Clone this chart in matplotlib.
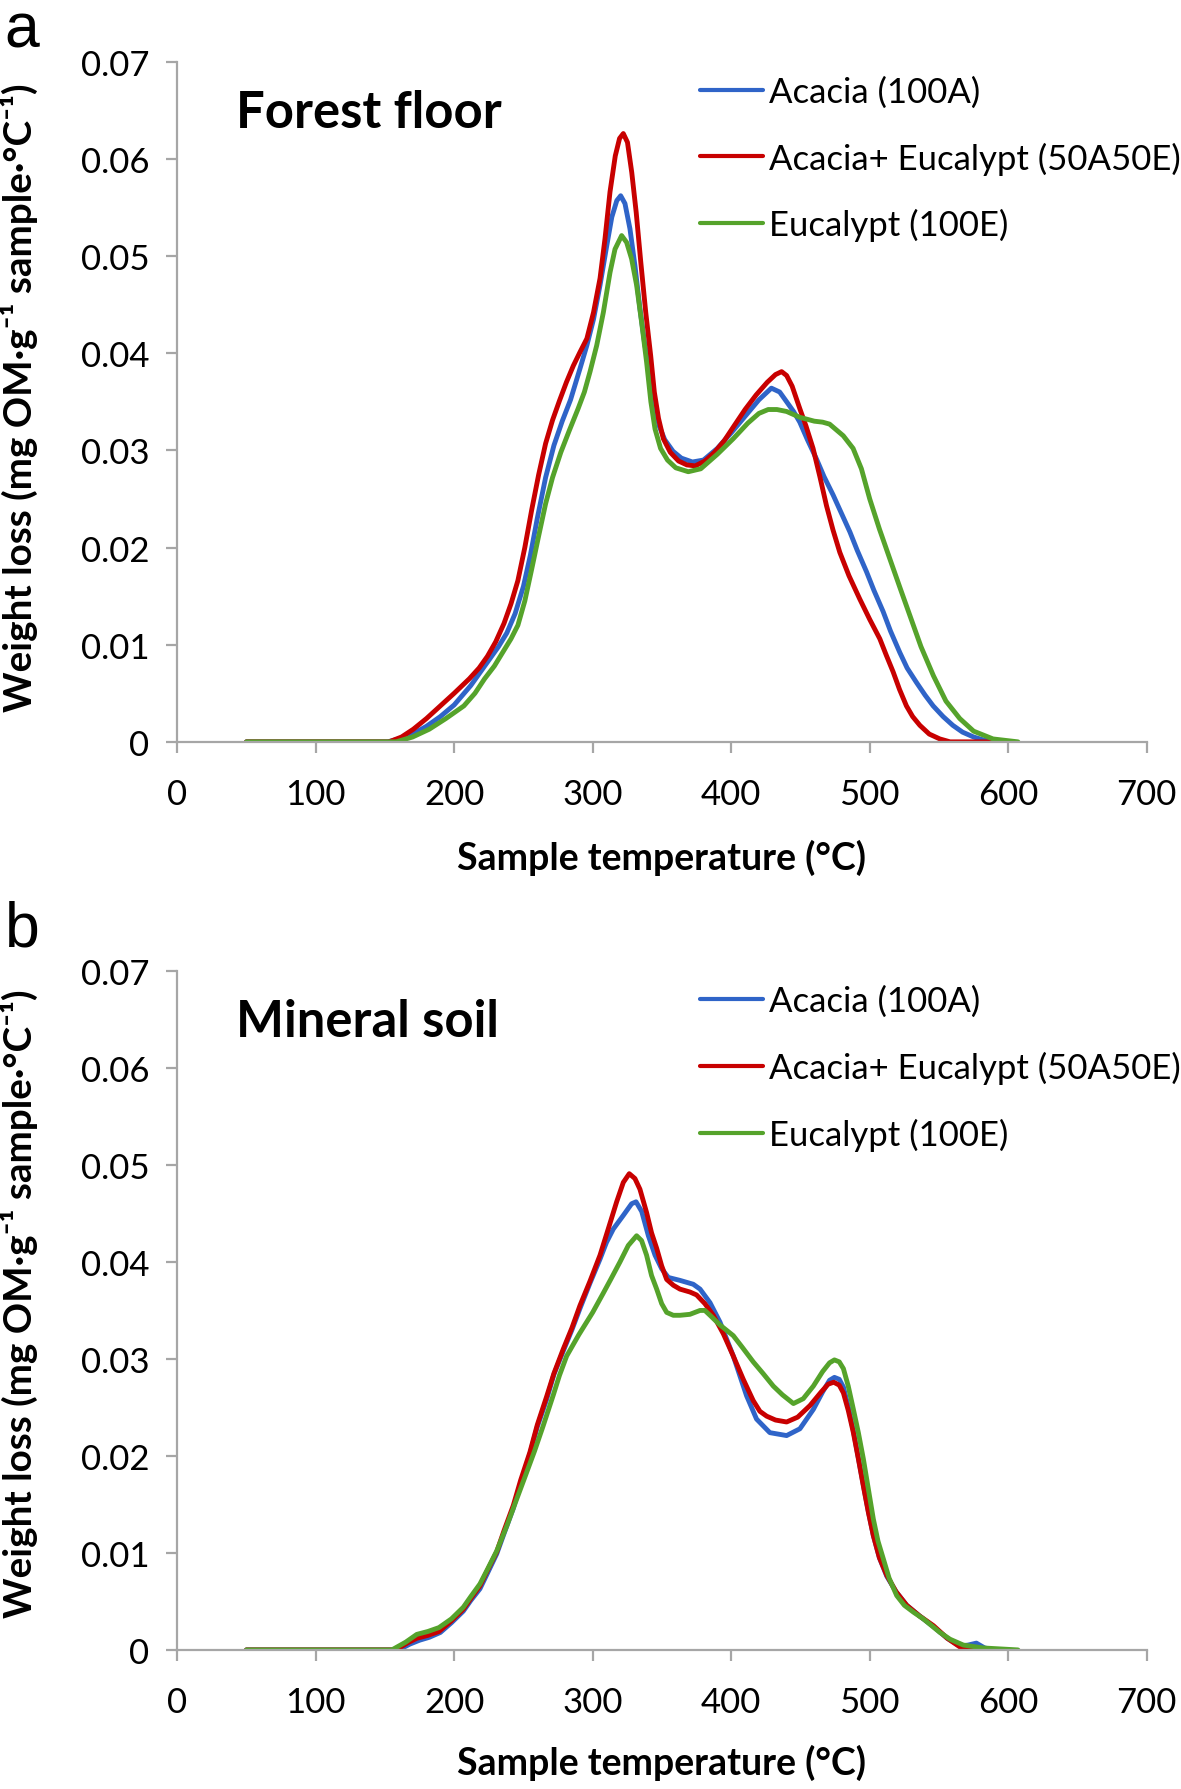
import matplotlib
matplotlib.use('Agg')
import matplotlib.pyplot as plt

# ---- data (temperature in C, weight loss) ----
# forest floor
ff_acacia_t = [50, 152, 160, 170, 180, 190, 200, 212, 224, 232, 238, 244, 250, 255, 260, 266, 272, 278, 284,
               290.8, 295.8, 300.6, 305.3, 310.2, 313.8, 317.4, 320.2, 323.3, 326.9, 330.5, 334.1, 337.7,
               342.6, 345, 348, 352, 358, 364, 372, 380, 390, 400, 410, 420, 429, 435, 440, 445, 449.5,
               455, 461.6, 467, 473.6, 479, 485.7, 491, 497.7, 503, 509.7, 515, 521.7, 527, 533.8, 540,
               545.8, 553, 560, 567, 575, 582, 590]
ff_acacia_w = [0, 0, 0.0003, 0.0008, 0.0016, 0.0026, 0.0038, 0.0058, 0.0082, 0.0098, 0.0112, 0.0132, 0.0160,
               0.0192, 0.0230, 0.0272, 0.0305, 0.0330, 0.0352, 0.0384, 0.0408, 0.0435, 0.0470, 0.0511, 0.0540,
               0.0557, 0.0562, 0.0554, 0.0528, 0.0490, 0.0446, 0.0408, 0.0374, 0.0345, 0.0325, 0.0311, 0.0299,
               0.0292, 0.0288, 0.0290, 0.0302, 0.0318, 0.0335, 0.0352, 0.0364, 0.0360, 0.0350, 0.0340, 0.0329,
               0.0311, 0.0291, 0.0273, 0.0254, 0.0237, 0.0216, 0.0197, 0.0175, 0.0156, 0.0134, 0.0114, 0.0092,
               0.0076, 0.0061, 0.0048, 0.0037, 0.0026, 0.0017, 0.0010, 0.0005, 0.0002, 0]

ff_mix_t = [50, 153, 162, 170.5, 180, 190, 200, 211, 218, 224, 230, 236, 241, 246, 251, 256, 261, 266, 271,
            276, 281, 286, 290.8, 295.8, 300.6, 305.3, 308.9, 312.5, 316.3, 319.4, 322.1, 325.1, 328.2,
            331.4, 334.7, 338.3, 341.9, 344.5, 347.5, 351, 356, 362, 368, 374, 381, 388, 395, 402, 410, 418,
            426, 432, 436.4, 440, 444, 449.5, 454, 459.1, 464, 468.8, 473.5, 478.4, 485, 492.8, 500, 507.3,
            512, 516.9, 521.5, 526.5, 531, 536.2, 543, 550.6, 558, 590]
ff_mix_w = [0, 0, 0.0005, 0.0013, 0.0024, 0.0037, 0.0050, 0.0065, 0.0076, 0.0088, 0.0103, 0.0122, 0.0142,
            0.0166, 0.0200, 0.0239, 0.0275, 0.0307, 0.0331, 0.0351, 0.0370, 0.0387, 0.0401, 0.0415, 0.0442,
            0.0477, 0.0518, 0.0566, 0.0603, 0.0621, 0.0626, 0.0617, 0.0586, 0.0545, 0.0494, 0.0442, 0.0397,
            0.0360, 0.0333, 0.0312, 0.0298, 0.0289, 0.0285, 0.0284, 0.0289, 0.0298, 0.0310, 0.0325, 0.0342,
            0.0357, 0.0370, 0.0378, 0.0381, 0.0377, 0.0366, 0.0343, 0.0325, 0.0302, 0.0273, 0.0243, 0.0218,
            0.0195, 0.0171, 0.0147, 0.0126, 0.0106, 0.0089, 0.0072, 0.0054, 0.0037, 0.0026, 0.0017, 0.0008,
            0.0003, 0, 0]

ff_euc_t = [50, 158, 170, 182, 194, 207, 215, 222, 229, 235, 241, 246, 251, 256, 261, 266, 271, 277, 283,
            289.5, 294, 298.1, 302.9, 307.7, 312.5, 316.1, 320.9, 324.5, 328.1, 331.7, 335.3, 338.9, 342,
            345, 349, 354, 360, 369, 378, 390, 401.5, 412, 420, 426.7, 433, 440, 449.5, 460, 466, 471,
            480.9, 488, 494, 500, 507, 514.6, 522, 529, 537, 546, 555, 565, 575, 589, 607]
ff_euc_w = [0, 0, 0.0005, 0.0013, 0.0024, 0.0037, 0.0050, 0.0065, 0.0078, 0.0092, 0.0106, 0.0120, 0.0145,
            0.0178, 0.0212, 0.0245, 0.0272, 0.0298, 0.0320, 0.0343, 0.0360, 0.0381, 0.0408, 0.0442, 0.0483,
            0.0507, 0.0521, 0.0514, 0.0497, 0.0470, 0.0432, 0.0391, 0.0350, 0.0322, 0.0302, 0.0290, 0.0282,
            0.0278, 0.0281, 0.0296, 0.0312, 0.0328, 0.0338, 0.0342, 0.0342, 0.0340, 0.0334, 0.0330, 0.0329,
            0.0327, 0.0315, 0.0302, 0.0281, 0.0250, 0.0219, 0.0188, 0.0158, 0.0130, 0.0098, 0.0068, 0.0042,
            0.0024, 0.0011, 0.0003, 0]

# mineral soil
ms_acacia_t = [50, 160, 168, 175, 182, 190, 198, 206.6, 212, 218.6, 224, 230.7, 236, 242.7, 248, 254.7, 260,
               266.7, 272, 278.7, 285, 290.8, 298, 305.3, 309.9, 314.9, 322.1, 328.1, 331.3, 335.4, 340.2,
               345, 349.8, 354.6, 363, 372.6, 377.5, 384.7, 391.9, 401.5, 411.1, 418.3, 427.9, 440, 449.6,
               459.3, 466, 471, 474.5, 478, 481, 484.5, 488.2, 491.8, 495.4, 499, 502.6, 507, 512.3, 519,
               526.7, 536, 546, 556, 565, 571, 577, 583, 590]
ms_acacia_w = [0, 0, 0.0006, 0.0010, 0.0013, 0.0018, 0.0028, 0.0040, 0.0051, 0.0063, 0.0079, 0.0099, 0.0120,
               0.0146, 0.0172, 0.0202, 0.0230, 0.0258, 0.0284, 0.0308, 0.0330, 0.0352, 0.0378, 0.0403, 0.0420,
               0.0434, 0.0448, 0.0460, 0.0462, 0.0452, 0.0427, 0.0407, 0.0393, 0.0384, 0.0381, 0.0377, 0.0372,
               0.0358, 0.0338, 0.0303, 0.0262, 0.0238, 0.0224, 0.0221, 0.0228, 0.0248, 0.0266, 0.0278, 0.0281,
               0.0279, 0.0271, 0.0251, 0.0226, 0.0198, 0.0170, 0.0143, 0.0118, 0.0095, 0.0076, 0.0060, 0.0046,
               0.0035, 0.0024, 0.0012, 0.0004, 0.0005, 0.0007, 0.0002, 0]

ms_mix_t = [50, 158, 166, 173, 181, 189, 198, 206.6, 212, 218.6, 224, 230.7, 236, 242.7, 248, 254.7, 260,
            266.7, 272, 278.7, 285, 290.8, 298, 305.3, 311, 317.3, 322.1, 326.4, 330.5, 334.1, 338.9, 342.5,
            346.2, 349.8, 353.4, 358.2, 363, 370.2, 375, 381, 387.1, 394.3, 401.5, 408.7, 415.9, 420.7,
            425.6, 432, 440, 448, 456.9, 465, 470, 474, 478, 481, 484.5, 488.2, 491.8, 495.4, 499, 502.6,
            507, 512.3, 519, 526.7, 536, 546, 556, 565.2, 577, 590]
ms_mix_w = [0, 0, 0.0007, 0.0012, 0.0015, 0.0019, 0.0030, 0.0042, 0.0053, 0.0066, 0.0082, 0.0101, 0.0123,
            0.0149, 0.0175, 0.0204, 0.0232, 0.0261, 0.0285, 0.0310, 0.0332, 0.0355, 0.0380, 0.0407, 0.0433,
            0.0462, 0.0482, 0.0491, 0.0486, 0.0475, 0.0451, 0.0430, 0.0414, 0.0396, 0.0382, 0.0376, 0.0372,
            0.0369, 0.0366, 0.0357, 0.0345, 0.0326, 0.0303, 0.0279, 0.0257, 0.0246, 0.0241, 0.0237, 0.0235,
            0.0240, 0.0252, 0.0266, 0.0274, 0.0276, 0.0273, 0.0265, 0.0247, 0.0224, 0.0197, 0.0169, 0.0142,
            0.0118, 0.0095, 0.0077, 0.0060, 0.0046, 0.0035, 0.0025, 0.0012, 0.0003, 0, 0]

ms_euc_t = [50, 155, 165, 173, 181, 189, 198, 206.6, 212, 218.6, 224, 230.7, 238, 245, 251, 258, 264, 271.6,
            276, 281.2, 290, 300, 307.7, 313, 319.7, 325.7, 331.7, 335.3, 338.9, 342.5, 346.2, 349.8, 353.4,
            358.2, 363, 370.2, 377.5, 381, 384.7, 391.9, 401.5, 408, 415.9, 423, 430.4, 437, 444.9, 452,
            459.3, 466, 471, 474.5, 478, 481, 484.5, 488.2, 491.8, 495.4, 499, 502.6, 506, 509.8, 514,
            519.5, 525, 531.5, 538.7, 550.7, 558, 567.6, 582, 607]
ms_euc_w = [0, 0, 0.0008, 0.0016, 0.0019, 0.0023, 0.0032, 0.0044, 0.0055, 0.0068, 0.0083, 0.0102, 0.0128,
            0.0155, 0.0178, 0.0205, 0.0230, 0.0263, 0.0283, 0.0303, 0.0325, 0.0348, 0.0368, 0.0382, 0.0400,
            0.0417, 0.0427, 0.0422, 0.0407, 0.0386, 0.0372, 0.0357, 0.0348, 0.0345, 0.0345, 0.0346, 0.0350,
            0.0350, 0.0345, 0.0335, 0.0324, 0.0312, 0.0297, 0.0285, 0.0272, 0.0263, 0.0254, 0.0259, 0.0272,
            0.0287, 0.0296, 0.0299, 0.0297, 0.0290, 0.0272, 0.0248, 0.0224, 0.0197, 0.0166, 0.0135, 0.0112,
            0.0094, 0.0074, 0.0056, 0.0046, 0.0039, 0.0032, 0.0018, 0.0011, 0.0005, 0.0002, 0]

labels = ['Acacia (100A)', 'Acacia+ Eucalypt (50A50E)', 'Eucalypt (100E)']
colors = ['#2F64C8', '#C80000', '#55A32B']
x_ticks = [0, 100, 200, 300, 400, 500, 600, 700]
y_ticks = [0, 0.01, 0.02, 0.03, 0.04, 0.05, 0.06, 0.07]

plt.rcParams['font.family'] = ['Lato', 'DejaVu Sans']
spine_col = '#A6A6A6'


def draw_panel(ax, series, title):
    for (t, w), lab, col in zip(series, labels, colors):
        ax.plot(t, w, color=col, lw=3.5, label=lab, solid_joinstyle='round', solid_capstyle='round')
    ax.set_xlim(0, 700)
    ax.set_ylim(0, 0.07)
    ax.set_xticks(x_ticks)
    ax.set_yticks(y_ticks)
    ax.set_xticklabels([str(v) for v in x_ticks])
    ax.set_yticklabels(['0'] + ['%.2f' % v for v in y_ticks[1:]])
    for s in ['top', 'right']:
        ax.spines[s].set_visible(False)
    for s in ['left', 'bottom']:
        ax.spines[s].set_color(spine_col)
        ax.spines[s].set_linewidth(1.6)
    ax.tick_params(axis='both', direction='out', length=8, width=1.6, color=spine_col,
                   labelsize=25, labelcolor='black')
    ax.tick_params(axis='x', pad=18)
    ax.tick_params(axis='y', pad=12)
    ax.set_xlabel('Sample temperature (°C)', fontsize=27, fontweight='bold')
    ax.set_ylabel('Weight loss (mg OM·g⁻¹ sample·°C⁻¹)', fontsize=27.8, fontweight='bold')
    ax.text(0.061, 0.925, title, transform=ax.transAxes, fontsize=36.5, fontweight='bold',
            ha='left', va='center')
    leg = ax.legend(loc='upper left', bbox_to_anchor=(0.525, 1.0), frameon=False, fontsize=25,
                    handlelength=1.8, handletextpad=0.18, labelspacing=0.97, borderaxespad=0)
    for line in leg.get_lines():
        line.set_linewidth(3.0)


fig = plt.figure(figsize=(11.81, 17.90), dpi=100)
ax1 = fig.add_axes([0.150, 0.585, 0.821, 0.380])
ax2 = fig.add_axes([0.150, 0.0777, 0.821, 0.3793])

draw_panel(ax1, [(ff_acacia_t, ff_acacia_w), (ff_mix_t, ff_mix_w), (ff_euc_t, ff_euc_w)], 'Forest floor')
draw_panel(ax2, [(ms_acacia_t, ms_acacia_w), (ms_mix_t, ms_mix_w), (ms_euc_t, ms_euc_w)], 'Mineral soil')

for ax, yl, xl in [(ax1, 0.507, -0.169), (ax2, 0.511, -0.165)]:
    ax.yaxis.set_label_coords(-0.163, yl)
    ax.xaxis.set_label_coords(0.5, xl)
    ax.yaxis.label.set_va('center')
    ax.xaxis.label.set_va('center')

fig.text(0.004, 1 - 47 / 1790, 'a', fontsize=45, family='Liberation Sans', ha='left', va='baseline')
fig.text(0.004, 0.471, 'b', fontsize=45, family='Liberation Sans', ha='left', va='baseline')

fig.savefig('out.png', dpi=100)
